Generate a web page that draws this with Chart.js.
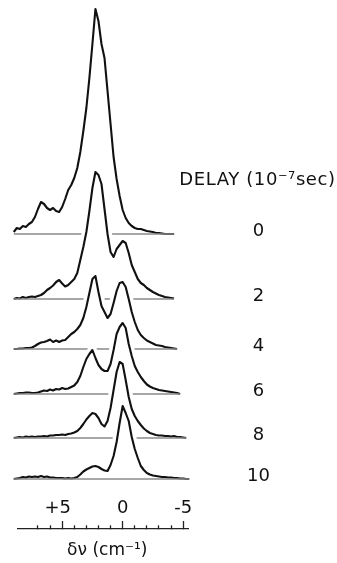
<!DOCTYPE html>
<html>
<head>
<meta charset="utf-8">
<script src="https://cdn.jsdelivr.net/npm/chart.js@4.4.0/dist/chart.umd.min.js"></script>
<style>
  html, body { margin: 0; padding: 0; background: #fff; }
  #wrap { position: relative; width: 337px; height: 563px; }
</style>
</head>
<body>
<div id="wrap"><canvas id="canvas1"></canvas></div>
<script>
// frequency shift, cm-1 (common grid for all traces)
var shift = [9, 8.75, 8.5, 8.25, 8, 7.75, 7.5, 7.25, 7, 6.75, 6.5, 6.25, 6, 5.75, 5.5, 5.25, 5, 4.75, 4.5, 4.25,
	4, 3.75, 3.5, 3.25, 3, 2.75, 2.5, 2.25, 2, 1.75, 1.5, 1.25, 1, 0.75, 0.5, 0.25, 0, -0.25, -0.5, -0.75,
	-1, -1.25, -1.5, -1.75, -2, -2.25, -2.5, -2.75, -3, -3.25, -3.5, -3.75, -4, -4.25, -4.5, -4.75, -5, -5.25, -5.5];

// delay labels (1e-7 sec) and vertical offset of each trace baseline
var delays = ['0', '2', '4', '6', '8', '10'];
var offsets = [245, 180, 130, 85, 41, 0];

// intensity above baseline
var delay0 = [2, 6, 5, 8, 7, 10, 12, 17, 25, 32, 30, 26, 24, 26, 23, 22, 27, 35, 44, 49,
	56, 66, 82, 103, 126, 156, 190, 225, 213, 190, 176, 143, 110, 77, 55, 38, 24, 16, 11, 8,
	6, 5, 5, 4, 3, 2.5, 2, 1, 1, 0.5, 0, 0, 0, 0, null, null, null, null, null];
var delay2 = [0, 1, 0.5, 2, 1, 2, 2.5, 2, 3, 4, 6, 9, 11, 13.5, 17, 19, 15.5, 12.5, 14, 17,
	20, 26, 39, 52, 67, 88, 111, 127, 124, 115, 90, 65, 47, 42, 50, 54, 58, 56, 46, 34,
	27, 20, 16, 14, 11, 9, 7, 5.5, 4, 3, 2, 1.5, 1, 0.5, null, null, null, null, null];
var delay4 = [0, 0, 0.5, 0.5, 1, 1, 1.5, 3, 5, 6.5, 7, 8, 9.5, 7, 8.5, 7, 8.5, 9, 12, 15,
	17, 20, 24, 31, 42, 56, 70, 73, 57, 43, 37, 31, 35, 46, 58, 66, 67, 62, 50, 37,
	27, 19, 14, 11, 8.5, 7, 5.5, 4, 3.5, 3, 2, 1.5, 1, 0.5, 0, null, null, null, null];
var delay6 = [0, 0.5, 1, 1, 1.5, 1.5, 1, 1, 1.5, 2.5, 3.5, 3, 4.5, 3.5, 5, 4.5, 6, 5, 5.5, 7,
	8.5, 12, 18, 27, 35, 40, 44, 36, 29, 25, 23, 23, 30, 44, 60, 67, 71, 66, 50, 38,
	28, 22, 17, 13, 9.5, 7.5, 6, 5, 4, 3.5, 3, 2.5, 2, 1.5, 1, 0, null, null, null];
var delay8 = [0, 0.5, 1, 0.5, 1.5, 1, 1.5, 1, 1.5, 1.5, 2, 1.5, 2.5, 2.5, 3, 3, 3.5, 3, 4, 4.5,
	5.5, 7, 10, 14, 18.5, 22, 25, 24, 20, 14, 11.5, 17, 30, 48, 66, 76, 74, 58, 41, 29,
	22, 17, 13, 9.5, 7, 5, 4, 3, 2.5, 2.5, 2, 2, 1.5, 2, 1, 1, 0.5, 0, null];
var delay10 = [0, 0.5, 1, 2, 1.5, 2.5, 2, 2.5, 2, 3, 2, 2.5, 1.5, 1.5, 1, 1, 1, 0.5, 1, 0.5,
	1, 2, 4.5, 7.5, 9.5, 11, 12.5, 13, 12, 10, 8.5, 8, 14, 23, 37, 56, 73, 66, 58, 42,
	30, 21, 13, 9, 6, 4.5, 3.5, 3, 2.5, 2, 2, 1.5, 1.5, 1, 1, 0.5, 0.5, 0, 0];

// x axis ticks
var tickMarks = [7, 6, 5, 4, 3, 2, 1, 0, -1, -2, -3, -4, -5];
var tickLabels = ['', '', '+5\u2002', '', '', '', '', '0', '', '', '', '', '-5'];

var delayTitle = 'DELAY (10\u207B\u2077sec)';
var axisTitle = '\u2002\u03B4\u03BD (cm\u207B\u00B9)';

var delayHeader = {
	id: 'delayHeader',
	afterDraw: function(chart){
		var ys = chart.scales.y;
		var c = chart.ctx;
		c.save();
		c.font = '18px "DejaVu Sans"';
		c.fillStyle = '#111';
		c.textAlign = 'center';
		c.textBaseline = 'middle';
		if ('letterSpacing' in c) c.letterSpacing = '0.6px';
		c.fillText(delayTitle, ys.left + 69.5, ys.getPixelForValue(offsets[0]) - 54);
		c.restore();
	}
};

var Spectra = {

	init: function(){
		var datasets = Spectra.buildDatasets();
		Spectra.generateChart(datasets);
	},

	buildDatasets: function(){
		var series = [delay0, delay2, delay4, delay6, delay8, delay10];
		var sets = [];
		series.forEach(function(h, t){
			var base = offsets[t];
			var pts = [];
			h.forEach(function(v, i){
				if (v !== null) pts.push({x: shift[i], y: base + v});
			});
			// later traces sit in front of earlier ones
			var rank = (series.length - 1 - t) * 3;
			sets.push({
				label: 'mask ' + delays[t],
				data: pts,
				borderColor: '#ffffff',
				borderWidth: 9,
				backgroundColor: '#ffffff',
				fill: {value: base},
				clip: false,
				order: rank + 2
			});
			sets.push({
				label: 'delay ' + delays[t],
				data: pts,
				borderColor: '#111111',
				borderWidth: 2.1,
				fill: false,
				clip: false,
				order: rank + 1
			});
			sets.push({
				label: 'base ' + delays[t],
				data: [{x: pts[0].x, y: base}, {x: pts[pts.length - 1].x, y: base}],
				borderColor: '#8a8a8a',
				borderWidth: 1.5,
				fill: false,
				clip: false,
				order: rank
			});
		});
		return sets;
	},

	generateChart: function(datasets){
		var ctx = document.getElementById('canvas1').getContext('2d');
		var font = {family: 'DejaVu Sans', size: 18};
		window.mySpectra = new Chart(ctx, {
			type: 'line',
			data: {datasets: datasets},
			plugins: [delayHeader],
			options: {
				responsive: true,
				maintainAspectRatio: false,
				animation: false,
				layout: {padding: {left: 18, top: 4, right: 0, bottom: 0}},
				elements: {
					point: {radius: 0},
					line: {tension: 0, borderJoinStyle: 'round'}
				},
				plugins: {
					legend: {display: false},
					tooltip: {enabled: false},
					filler: {drawTime: 'beforeDatasetDraw'}
				},
				scales: {
					x: {
						type: 'linear',
						position: 'bottom',
						reverse: true,
						min: -5.4,
						max: 8.65,
						afterBuildTicks: function(scale){
							scale.ticks = tickMarks.map(function(v){ return {value: v}; });
						},
						afterFit: function(scale){
							scale.height = 34;
							scale.paddingLeft = 0;
							scale.paddingRight = 0;
						},
						grid: {
							drawOnChartArea: false,
							drawTicks: true,
							tickLength: -8,
							tickColor: '#222',
							tickWidth: 1.3,
							tickBorderDash: function(c){
								return (c.tick && c.tick.value % 5 === 0) ? [] : [4, 40];
							}
						},
						border: {display: true, color: '#222', width: 1.3},
						ticks: {
							mirror: true,
							padding: 10,
							autoSkip: false,
							maxRotation: 0,
							color: '#111',
							font: font,
							callback: function(v){
								var k = tickMarks.indexOf(v);
								return k < 0 ? '' : tickLabels[k];
							}
						},
						title: {
							display: true,
							text: axisTitle,
							color: '#111',
							font: {family: 'DejaVu Sans', size: 17},
							padding: {top: 0, bottom: 2}
						}
					},
					y: {
						type: 'linear',
						position: 'right',
						min: -50,
						max: 475,
						afterBuildTicks: function(scale){
							scale.ticks = offsets.map(function(v){ return {value: v}; });
						},
						afterFit: function(scale){
							scale.width = 149;
							scale.paddingTop = 0;
							scale.paddingBottom = 0;
						},
						grid: {display: false, drawTicks: false},
						border: {display: false},
						ticks: {
							crossAlign: 'center',
							padding: 59,
							labelOffset: -2.5,
							autoSkip: false,
							color: '#111',
							font: font,
							callback: function(v){
								var k = offsets.indexOf(v);
								return k < 0 ? '' : delays[k];
							}
						}
					}
				}
			}
		});
	}
};

Spectra.init();
</script>
</body>
</html>
